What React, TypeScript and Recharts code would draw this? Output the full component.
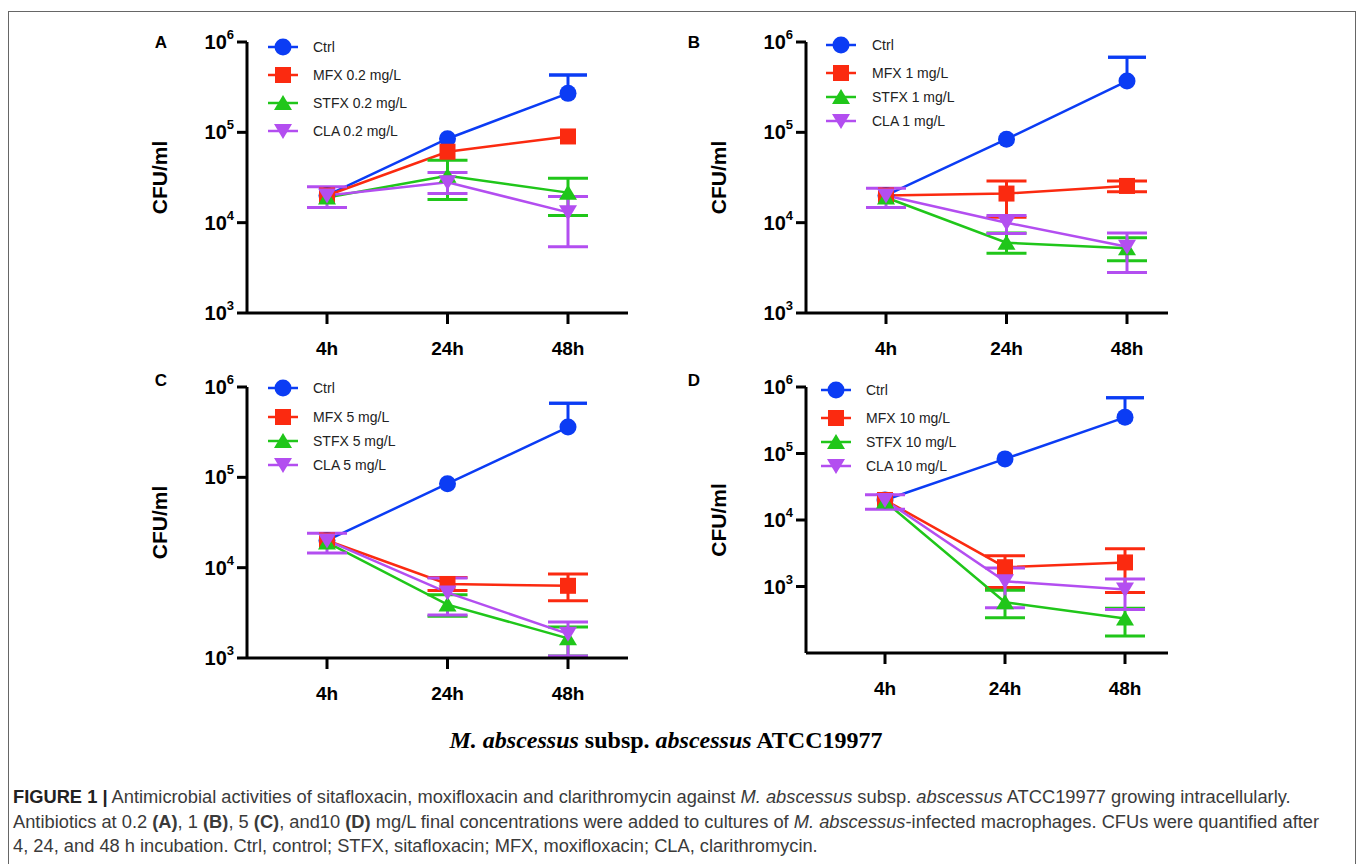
import React from 'react';
import { LineChart, Line, XAxis, YAxis, ErrorBar } from 'recharts';

const FONT = '"Liberation Sans", Arial, Helvetica, sans-serif';

// time points (x categories)
const times = ['4h', '24h', '48h'];
// drug concentration per panel (A, B, C, D)
const doses = ['0.2', '1', '5', '10'];
const panelLetters = ['A', 'B', 'C', 'D'];

// CFU/ml means, per panel [A, B, C, D], each [4h, 24h, 48h]
const ctrlMean = [[2.0e4, 8.5e4, 2.7e5], [2.0e4, 8.4e4, 3.7e5], [2.0e4, 8.5e4, 3.6e5], [2.0e4, 8.3e4, 3.5e5]];
const ctrlHigh = [[2.0e4, 8.5e4, 4.3e5], [2.0e4, 8.4e4, 6.8e5], [2.0e4, 8.5e4, 6.6e5], [2.0e4, 8.3e4, 6.9e5]];
const ctrlLow = [[2.0e4, 8.5e4, 2.7e5], [2.0e4, 8.4e4, 3.7e5], [2.0e4, 8.5e4, 3.6e5], [2.0e4, 8.3e4, 3.5e5]];

const mfxMean = [[2.0e4, 6.1e4, 9.0e4], [2.0e4, 2.1e4, 2.55e4], [2.0e4, 6.6e3, 6.3e3], [2.0e4, 1.95e3, 2.3e3]];
const mfxHigh = [[2.0e4, 6.1e4, 9.0e4], [2.0e4, 2.9e4, 2.9e4], [2.0e4, 7.8e3, 8.5e3], [2.0e4, 2.9e3, 3.7e3]];
const mfxLow = [[2.0e4, 6.1e4, 9.0e4], [2.0e4, 1.15e4, 2.2e4], [2.0e4, 5.6e3, 4.3e3], [2.0e4, 9.7e2, 8.1e2]];

const stfxMean = [[1.9e4, 3.3e4, 2.15e4], [1.9e4, 6.0e3, 5.2e3], [1.9e4, 3.9e3, 1.65e3], [1.9e4, 5.8e2, 3.3e2]];
const stfxHigh = [[1.9e4, 4.9e4, 3.1e4], [1.9e4, 7.7e3, 6.8e3], [1.9e4, 5.0e3, 2.2e3], [1.9e4, 8.8e2, 4.7e2]];
const stfxLow = [[1.9e4, 1.8e4, 1.2e4], [1.9e4, 4.6e3, 3.8e3], [1.9e4, 2.9e3, 1.05e3], [1.9e4, 3.4e2, 1.8e2]];

const claMean = [[2.0e4, 2.8e4, 1.3e4], [2.0e4, 1.0e4, 5.4e3], [2.0e4, 5.3e3, 1.85e3], [2.0e4, 1.2e3, 9.0e2]];
const claHigh = [[2.5e4, 3.6e4, 1.95e4], [2.4e4, 1.2e4, 7.7e3], [2.4e4, 7.7e3, 2.5e3], [2.4e4, 1.9e3, 1.3e3]];
const claLow = [[1.47e4, 2.1e4, 5.4e3], [1.47e4, 7.6e3, 2.8e3], [1.45e4, 3.0e3, 1.05e3], [1.45e4, 4.8e2, 4.5e2]];

const yTicks = [1e3, 1e4, 1e5, 1e6];

const series = [
  { key: 'ctrl', label: () => 'Ctrl', color: '#0b3cf4', shape: 'circle', mean: ctrlMean, high: ctrlHigh, low: ctrlLow },
  { key: 'mfx', label: (d: string) => `MFX ${d} mg/L`, color: '#fb2a10', shape: 'square', mean: mfxMean, high: mfxHigh, low: mfxLow },
  { key: 'stfx', label: (d: string) => `STFX ${d} mg/L`, color: '#20c61a', shape: 'up', mean: stfxMean, high: stfxHigh, low: stfxLow },
  { key: 'cla', label: (d: string) => `CLA ${d} mg/L`, color: '#b34ef0', shape: 'down', mean: claMean, high: claHigh, low: claLow },
];

// placement of each panel on the page
const layout = [
  { left: 140, top: 20, mt: 22, mb: 7, yw: 107, mr: 12, pad: { left: 80, right: 60 }, domain: [1e3, 1e6], letter: [161, 42], legend: { mx: 283, tx: 313, rows: [47, 75, 103, 131] } },
  { left: 690, top: 20, mt: 22, mb: 7, yw: 116, mr: 22, pad: { left: 80, right: 41 }, domain: [1e3, 1e6], letter: [694, 42], legend: { mx: 841, tx: 872, rows: [45, 73, 97, 121] } },
  { left: 140, top: 360, mt: 27, mb: 2, yw: 107, mr: 12, pad: { left: 80, right: 60 }, domain: [1e3, 1e6], letter: [161, 380], legend: { mx: 283, tx: 313, rows: [388, 417, 441, 465] } },
  { left: 690, top: 360, mt: 27, mb: 7, yw: 116, mr: 22, pad: { left: 79, right: 43 }, domain: [1e2, 1e6], letter: [694, 380], legend: { mx: 836, tx: 866, rows: [390, 418, 442, 466] } },
];

const Marker = ({ shape, cx, cy, color }: { shape: string; cx: number; cy: number; color: string }) => {
  if (shape === 'circle') return <circle cx={cx} cy={cy} r={8.5} fill={color} />;
  if (shape === 'square') return <rect x={cx - 8} y={cy - 8} width={16} height={16} fill={color} />;
  if (shape === 'up') return <polygon points={`${cx},${cy - 8} ${cx + 9},${cy + 7} ${cx - 9},${cy + 7}`} fill={color} />;
  return <polygon points={`${cx},${cy + 8} ${cx + 9},${cy - 7} ${cx - 9},${cy - 7}`} fill={color} />;
};

const PowTick = (props: any) => {
  const { x, y, payload } = props;
  const exp = Math.round(Math.log10(payload.value));
  return (
    <text x={x} y={y + 7} textAnchor="end" fontFamily={FONT} fontWeight="bold" fontSize={20} fill="#000">
      10<tspan dy={-10} fontSize={13}>{exp}</tspan>
    </text>
  );
};

const cfuLabel = (lp: any) => {
  const vb = lp.viewBox || {};
  const cx = vb.x + vb.width - 88;
  const cy = vb.y + vb.height / 2;
  return (
    <text x={cx} y={cy} transform={`rotate(-90 ${cx} ${cy})`} textAnchor="middle" dominantBaseline="central"
      fontFamily={FONT} fontWeight="bold" fontSize={21} fill="#000">CFU/ml</text>
  );
};

const Panel = ({ idx }: { idx: number }) => {
  const p = layout[idx];
  const data = times.map((t, i) => {
    const row: any = { t };
    series.forEach((s) => {
      const m = s.mean[idx][i];
      const lo = m - s.low[idx][i];
      const hi = s.high[idx][i] - m;
      row[s.key] = m;
      row[s.key + 'Err'] = lo === 0 && hi === 0 ? null : [lo, hi];
    });
    // control bars point upward only: whisker from the mean, one cap at the top
    const topErr = ctrlHigh[idx][i] - ctrlMean[idx][i];
    row.ctrlCap = topErr > 0 ? ctrlHigh[idx][i] : null;
    row.ctrlCapErr = topErr > 0 ? [0, 0] : null;
    return row;
  });

  return (
    <div style={{ position: 'absolute', left: p.left, top: p.top }}>
      <LineChart width={500} height={350} data={data} margin={{ top: p.mt, right: p.mr, bottom: p.mb, left: 0 }}>
        <XAxis
          dataKey="t"
          padding={p.pad}
          height={50}
          interval={0}
          axisLine={{ stroke: '#000', strokeWidth: 3 }}
          tickLine={{ stroke: '#000', strokeWidth: 3 }}
          tickSize={11}
          tickMargin={18}
          tick={{ fill: '#000', fontSize: 19, fontWeight: 'bold', fontFamily: FONT }}
        />
        <YAxis
          type="number"
          scale="log"
          domain={p.domain}
          allowDataOverflow
          ticks={yTicks}
          interval={0}
          width={p.yw}
          axisLine={{ stroke: '#000', strokeWidth: 3 }}
          tickLine={{ stroke: '#000', strokeWidth: 3 }}
          tickSize={10}
          tickMargin={3}
          tick={(tp: any) => <PowTick {...tp} />}
          label={cfuLabel}
        />
        <Line
          dataKey="ctrlCap"
          stroke="none"
          dot={false}
          activeDot={false}
          legendType="none"
          isAnimationActive={false}
        >
          <ErrorBar dataKey="ctrlCapErr" direction="y" width={19} strokeWidth={3} stroke={series[0].color} isAnimationActive={false} />
        </Line>
        {series.map((s) => (
          <Line
            key={s.key}
            type="linear"
            dataKey={s.key}
            stroke={s.color}
            strokeWidth={2.5}
            isAnimationActive={false}
            activeDot={false}
            dot={(dp: any) => <Marker key={`${s.key}-${dp.index}`} shape={s.shape} cx={dp.cx} cy={dp.cy} color={s.color} />}
          >
            <ErrorBar dataKey={s.key + 'Err'} direction="y" width={s.key === 'ctrl' ? 0 : 20} strokeWidth={3} stroke={s.color} isAnimationActive={false} />
          </Line>
        ))}
      </LineChart>
    </div>
  );
};

const Legends = () => (
  <svg width={1357} height={864} style={{ position: 'absolute', left: 0, top: 0, pointerEvents: 'none' }}>
    {layout.map((p, idx) => (
      <g key={idx}>
        <text x={p.letter[0]} y={p.letter[1]} textAnchor="middle" dominantBaseline="central" fontFamily={FONT} fontWeight="bold" fontSize={17} fill="#000">
          {panelLetters[idx]}
        </text>
        {series.map((s, i) => {
          const y = p.legend.rows[i];
          return (
            <g key={s.key}>
              <line x1={p.legend.mx - 15} x2={p.legend.mx + 15} y1={y} y2={y} stroke={s.color} strokeWidth={2.5} />
              <Marker shape={s.shape} cx={p.legend.mx} cy={y} color={s.color} />
              <text x={p.legend.tx} y={y} dominantBaseline="central" fontFamily={FONT} fontSize={14} fill="#222">
                {s.label(doses[idx])}
              </text>
            </g>
          );
        })}
      </g>
    ))}
  </svg>
);

export default function App() {
  return (
    <div style={{ position: 'absolute', left: 0, top: 0, width: 1357, height: 864, background: '#fff', overflow: 'hidden' }}>
      <div style={{ position: 'absolute', left: 8, top: 11, width: 1346, height: 900, border: '1px solid #666' }} />
      {layout.map((_, i) => <Panel key={i} idx={i} />)}
      <Legends />
      <div style={{ position: 'absolute', left: 366, top: 726, width: 600, textAlign: 'center', fontFamily: '"Liberation Serif", "Times New Roman", serif', fontWeight: 'bold', fontSize: 24, lineHeight: '28px', color: '#000' }}>
        <i>M. abscessus</i> subsp. <i>abscessus</i> ATCC19977
      </div>
      <div style={{ position: 'absolute', left: 13, top: 785, fontFamily: FONT, fontSize: 18.3, lineHeight: '24.5px', color: '#3a3a3a', whiteSpace: 'nowrap' }}>
        <div><b style={{ color: '#222' }}>FIGURE 1 |</b> Antimicrobial activities of sitafloxacin, moxifloxacin and clarithromycin against <i>M. abscessus</i> subsp. <i>abscessus</i> ATCC19977 growing intracellularly.</div>
        <div>Antibiotics at 0.2 <b>(A)</b>, 1 <b>(B)</b>, 5 <b>(C)</b>, and10 <b>(D)</b> mg/L final concentrations were added to cultures of <i>M. abscessus</i>-infected macrophages. CFUs were quantified after</div>
        <div>4, 24, and 48 h incubation. Ctrl, control; STFX, sitafloxacin; MFX, moxifloxacin; CLA, clarithromycin.</div>
      </div>
    </div>
  );
}
